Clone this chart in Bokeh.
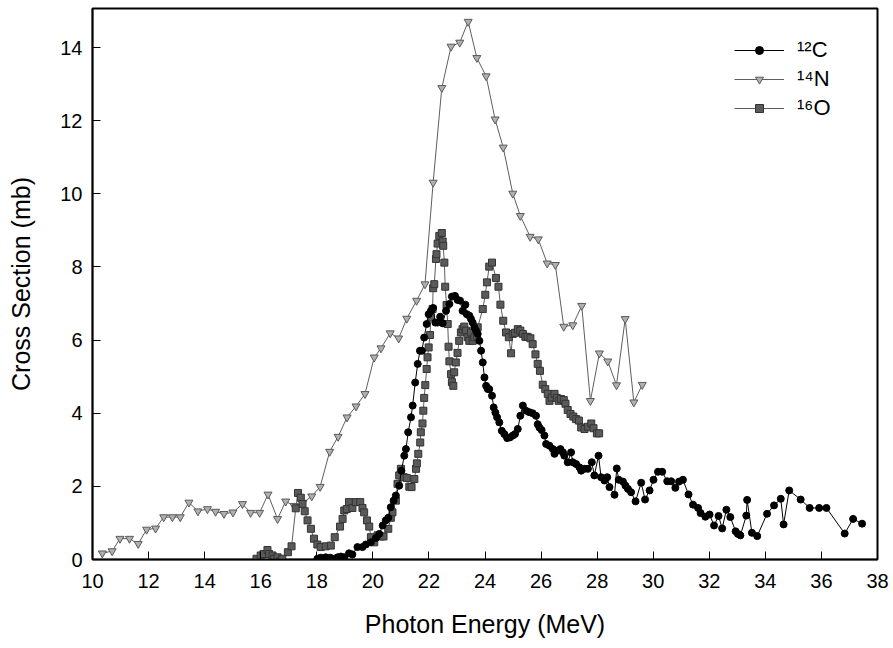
from bokeh.plotting import figure
from bokeh.models import Range1d, Legend, LegendItem
from bokeh.embed import file_html
from bokeh.resources import INLINE

# ---- data ----
c_energy = [18.02, 18.14, 18.32, 18.48, 18.62, 18.74, 18.86, 18.98, 19.15, 19.27, 19.45, 19.63,
            19.75, 19.93, 20.11, 20.23, 20.35, 20.46, 20.55, 20.64, 20.74, 20.82, 20.94, 21.02,
            21.12, 21.18, 21.26, 21.36, 21.42, 21.51, 21.60, 21.68, 21.75, 21.83, 21.92, 21.99,
            22.07, 22.15, 22.23, 22.31, 22.40, 22.49, 22.61, 22.73, 22.82, 22.93, 23.02, 23.11,
            23.20, 23.30, 23.35, 23.44, 23.50, 23.56, 23.62, 23.68, 23.74, 23.80, 23.86, 23.92,
            23.98, 24.04, 24.10, 24.15, 24.25, 24.31, 24.37, 24.43, 24.51, 24.60, 24.69, 24.79,
            24.89, 24.99, 25.07, 25.17, 25.26, 25.35, 25.46, 25.58, 25.70, 25.82, 25.88, 25.94,
            26.02, 26.12, 26.18, 26.30, 26.42, 26.48, 26.60, 26.69, 26.78, 26.83, 26.95, 27.07,
            27.13, 27.25, 27.37, 27.43, 27.55, 27.67, 27.81, 27.90, 28.05, 28.14, 28.26, 28.36,
            28.44, 28.62, 28.70, 28.77, 28.92, 29.01, 29.10, 29.21, 29.37, 29.57, 29.71, 29.87,
            30.01, 30.17, 30.32, 30.50, 30.64, 30.79, 30.92, 31.06, 31.26, 31.42, 31.60, 31.69,
            31.86, 32.01, 32.17, 32.33, 32.46, 32.61, 32.75, 32.94, 33.02, 33.11, 33.32, 33.35,
            33.52, 33.71, 34.06, 34.31, 34.55, 34.65, 34.85, 35.26, 35.58, 35.92, 36.18, 36.83,
            37.13, 37.45]
c_sigma = [0.02, 0.05, 0.06, 0.05, 0.02, 0.06, 0.08, 0.06, 0.17, 0.14, 0.34, 0.34,
           0.41, 0.47, 0.59, 0.70, 0.93, 1.07, 1.14, 1.43, 1.61, 1.75, 2.02, 2.43,
           2.84, 3.02, 3.48, 3.89, 4.21, 4.84, 5.35, 5.71, 5.71, 6.07, 6.44, 6.71,
           6.80, 6.88, 6.48, 6.48, 6.64, 6.46, 6.80, 6.99, 7.19, 7.21, 7.10, 7.08,
           6.80, 6.97, 6.71, 6.67, 6.58, 6.48, 6.35, 6.26, 6.17, 5.98, 5.71, 5.39,
           4.98, 4.75, 4.66, 4.66, 4.48, 4.16, 4.02, 3.89, 3.75, 3.52, 3.43, 3.32,
           3.34, 3.39, 3.43, 3.57, 3.93, 4.21, 4.07, 4.03, 4.00, 3.93, 3.70, 3.61,
           3.54, 3.39, 3.16, 3.11, 3.02, 2.89, 2.98, 3.02, 2.93, 2.84, 2.66, 2.93,
           2.66, 2.61, 2.52, 2.43, 2.48, 2.48, 2.66, 2.30, 2.84, 2.25, 2.16, 2.25,
           1.98, 1.77, 2.49, 2.18, 2.13, 2.02, 1.93, 1.84, 1.59, 2.10, 1.64, 1.89,
           2.18, 2.40, 2.40, 2.14, 2.14, 1.96, 2.13, 2.18, 1.78, 1.50, 1.41, 1.27,
           1.17, 1.23, 0.93, 1.19, 0.85, 1.36, 1.16, 0.77, 0.70, 0.66, 1.20, 1.63,
           0.73, 0.64, 1.25, 1.48, 1.66, 0.96, 1.89, 1.64, 1.41, 1.41, 1.41, 0.71,
           1.11, 0.98]

n_energy = [10.35, 10.70, 10.98, 11.32, 11.63, 11.93, 12.25, 12.54, 12.85, 13.13, 13.44, 13.76,
            14.10, 14.39, 14.69, 15.01, 15.35, 15.64, 15.96, 16.26, 16.60, 16.89, 17.19, 17.50,
            17.82, 18.12, 18.46, 18.76, 19.08, 19.40, 19.72, 20.05, 20.29, 20.62, 20.92, 21.21,
            21.56, 21.86, 22.15, 22.46, 22.79, 23.10, 23.40, 23.71, 24.04, 24.36, 24.65, 24.99,
            25.26, 25.61, 25.90, 26.22, 26.51, 26.81, 27.13, 27.45, 27.76, 28.08, 28.38, 28.69,
            29.00, 29.31, 29.61]
n_sigma = [0.17, 0.23, 0.57, 0.57, 0.43, 0.82, 0.85, 1.16, 1.16, 1.16, 1.56, 1.32,
           1.38, 1.31, 1.25, 1.29, 1.52, 1.28, 1.28, 1.78, 1.11, 1.59, 1.47, 1.55,
           1.73, 1.99, 2.95, 3.36, 3.89, 4.19, 4.53, 5.53, 5.78, 6.19, 6.05, 6.59,
           7.08, 7.53, 10.31, 12.90, 14.03, 14.14, 14.71, 13.72, 13.22, 12.04, 11.27, 10.01,
           9.40, 8.83, 8.76, 8.10, 8.06, 6.37, 6.41, 6.94, 4.34, 5.64, 5.42, 4.77,
           6.58, 4.30, 4.78]

o_energy = [15.85, 16.00, 16.10, 16.24, 16.30, 16.42, 16.48, 16.60, 16.69, 16.77, 16.97, 17.10,
            17.25, 17.33, 17.43, 17.49, 17.57, 17.67, 17.79, 17.90, 18.02, 18.14, 18.32, 18.50,
            18.64, 18.83, 18.92, 18.98, 19.07, 19.15, 19.27, 19.39, 19.55, 19.63, 19.69, 19.79,
            19.87, 19.93, 20.05, 20.17, 20.29, 20.38, 20.55, 20.64, 20.70, 20.82, 20.88, 20.94,
            21.00, 21.10, 21.21, 21.30, 21.38, 21.48, 21.54, 21.57, 21.62, 21.69, 21.71, 21.77,
            21.80, 21.83, 21.87, 21.92, 21.95, 21.99, 22.04, 22.07, 22.13, 22.15, 22.19, 22.25,
            22.27, 22.31, 22.37, 22.46, 22.49, 22.51, 22.55, 22.58, 22.63, 22.67, 22.70, 22.73,
            22.79, 22.82, 22.87, 22.90, 22.96, 23.02, 23.08, 23.14, 23.20, 23.26, 23.32, 23.38,
            23.44, 23.50, 23.56, 23.62, 23.71, 23.74, 23.92, 24.01, 24.07, 24.15, 24.25, 24.39,
            24.48, 24.55, 24.65, 24.75, 24.85, 24.93, 24.99, 25.07, 25.17, 25.26, 25.35, 25.44,
            25.52, 25.62, 25.70, 25.80, 25.88, 25.96, 26.06, 26.15, 26.24, 26.30, 26.38, 26.48,
            26.56, 26.63, 26.71, 26.81, 26.87, 26.95, 27.05, 27.15, 27.25, 27.35, 27.43, 27.55,
            27.67, 27.79, 27.87, 27.99, 28.07]
o_sigma = [0.02, 0.11, 0.15, 0.26, 0.15, 0.11, 0.02, 0.06, -0.05, 0.02, 0.20, 0.36,
           1.40, 1.82, 1.69, 1.52, 1.32, 1.07, 0.84, 0.57, 0.41, 0.34, 0.36, 0.38,
           0.61, 0.90, 1.11, 1.34, 1.38, 1.57, 1.41, 1.57, 1.57, 1.41, 1.29, 1.07,
           0.90, 0.61, 0.47, 0.66, 0.63, 0.63, 0.84, 1.14, 1.29, 1.61, 2.07, 2.30,
           2.48, 2.25, 2.23, 1.99, 1.98, 2.20, 2.48, 2.63, 2.89, 3.20, 3.48, 3.72,
           4.07, 4.42, 4.77, 5.21, 5.53, 5.80, 6.14, 6.62, 6.85, 7.42, 7.53, 8.22,
           8.35, 8.64, 8.85, 8.93, 8.70, 8.58, 8.12, 7.46, 6.96, 6.44, 5.82, 5.42,
           5.07, 4.85, 4.75, 5.12, 5.39, 5.65, 5.98, 6.21, 6.30, 6.37, 6.26, 6.08,
           5.98, 6.21, 5.98, 6.08, 6.12, 6.35, 6.85, 7.24, 7.58, 8.01, 8.12, 7.70,
           7.46, 6.97, 6.53, 6.21, 6.08, 5.64, 6.17, 6.20, 6.30, 6.26, 6.17, 6.09,
           6.09, 6.05, 5.89, 5.61, 5.35, 5.16, 4.78, 4.66, 4.53, 4.34, 4.43, 4.53,
           4.42, 4.34, 4.39, 4.36, 4.26, 4.09, 3.98, 3.91, 3.84, 3.80, 3.61, 3.57,
           3.63, 3.72, 3.59, 3.45, 3.45]

series_labels = ["\u00b9\u00b2C", "\u00b9\u2074N", "\u00b9\u2076O"]
x_label = "Photon Energy (MeV)"
y_label = "Cross Section (mb)"
x_ticks = list(range(10, 39, 2))
y_ticks = list(range(0, 15, 2))

FONT = "Liberation Sans"

p = figure(frame_width=785, frame_height=551,
           x_range=Range1d(10, 38), y_range=Range1d(0, 15.07),
           output_backend="svg", toolbar_location=None,
           min_border_left=92, min_border_right=16, min_border_top=8, min_border_bottom=89)

p.background_fill_color = "white"
p.border_fill_color = "white"
p.outline_line_color = "black"
p.outline_line_width = 2
p.xgrid.visible = False
p.ygrid.visible = False

# series
rn_line = p.line(n_energy, n_sigma, line_color="#5e5e5e", line_width=1)
rn_pts = p.scatter(n_energy, n_sigma, marker="inverted_triangle", size=8,
                   fill_color="#b0b0b0", line_color="#5a5a5a", line_width=1)
ro_line = p.line(o_energy, o_sigma, line_color="#5e5e5e", line_width=1)
ro_pts = p.scatter(o_energy, o_sigma, marker="square", size=7,
                   fill_color="#5a5a5a", line_color="#333333", line_width=1)
rc_line = p.line(c_energy, c_sigma, line_color="black", line_width=1)
rc_pts = p.scatter(c_energy, c_sigma, marker="circle", size=7,
                   fill_color="black", line_color="black")

# axes
for ax in (p.xaxis[0], p.yaxis[0]):
    ax.axis_line_color = "black"
    ax.axis_line_width = 1.5
    ax.major_tick_in = 8
    ax.major_tick_out = 0
    ax.minor_tick_in = 5
    ax.minor_tick_out = 0
    ax.major_tick_line_color = "black"
    ax.minor_tick_line_color = "black"
    ax.major_label_text_font = FONT
    ax.major_label_text_font_size = "20px"
    ax.major_label_text_color = "black"
    ax.axis_label_text_font = FONT
    ax.axis_label_text_font_size = "25px"
    ax.axis_label_text_font_style = "normal"
    ax.axis_label_text_color = "black"

p.xaxis.ticker = x_ticks
p.xaxis[0].ticker.num_minor_ticks = 2
p.yaxis.ticker = y_ticks
p.yaxis[0].ticker.num_minor_ticks = 2
p.xaxis.axis_label = x_label
p.yaxis.axis_label = y_label
p.xaxis.major_label_standoff = 14
p.xaxis.axis_label_standoff = 19
p.yaxis.major_label_standoff = 10
p.yaxis.axis_label_standoff = 22

legend = Legend(items=[
    LegendItem(label=series_labels[0], renderers=[rc_line, rc_pts]),
    LegendItem(label=series_labels[1], renderers=[rn_line, rn_pts]),
    LegendItem(label=series_labels[2], renderers=[ro_line, ro_pts]),
], location=(642, 438))
legend.border_line_color = None
legend.background_fill_alpha = 0
legend.padding = 0
legend.margin = 0
legend.spacing = 3
legend.glyph_width = 50
legend.glyph_height = 20
legend.label_height = 20
legend.label_standoff = 13
legend.label_text_font = FONT
legend.label_text_font_size = "22px"
legend.label_text_color = "black"
p.add_layout(legend, "center")

open("out.html", "w").write(file_html(p, INLINE))
